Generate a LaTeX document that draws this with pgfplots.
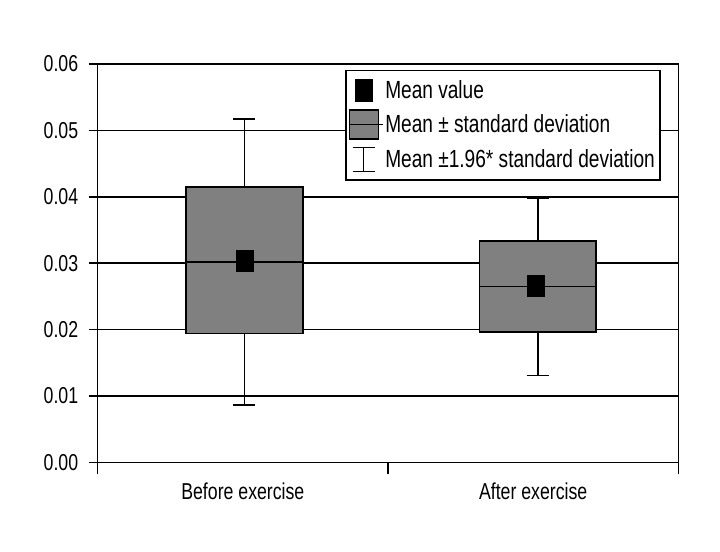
\documentclass[border=0pt]{standalone}
\usepackage{fontspec}
\setmainfont{Liberation Sans}[FakeStretch=0.77]
\usepackage{pgfplots}
\pgfplotsset{compat=1.18}
\begin{document}
\begin{tikzpicture}
\path[use as bounding box] (-97.7bp,-89.7bp) rectangle (622.3bp,462.3bp);
\begin{axis}[
  scale only axis,
  width=580.6bp, height=398.3bp,
  xmin=0.5, xmax=2.5,
  ymin=0, ymax=0.06,
  ytick={0,0.01,0.02,0.03,0.04,0.05,0.06},
  scaled y ticks=false,
  xtick={1,2},
  xticklabels={Before exercise, After exercise},
  minor xtick={0.5,1.5,2.5},
  xtick pos=bottom, ytick pos=left,
  tick align=outside,
  major tick length=9bp,
  major x tick style={draw=none},
  minor tick length=12bp,
  every tick/.style={black, line width=1.5bp},
  axis line style={line width=1.5bp},
  ymajorgrids,
  y grid style={black, line width=1.5bp},
  /pgf/number format/assume math mode=true,
  yticklabel style={/pgf/number format/fixed, /pgf/number format/fixed zerofill, /pgf/number format/precision=2},
  every tick label/.append style={font=\fontsize{23bp}{27bp}\selectfont},
  yticklabel style={xshift=-7bp},
  xticklabel style={yshift=-8bp},
  legend style={at={(0.426,0.985)}, anchor=north west, draw=black, line width=1.5bp,
    font=\fontsize{24.8bp}{28bp}\selectfont, row sep=7bp, inner xsep=3bp, inner ysep=8bp},
  legend cell align=left,
]
% whiskers (mean +/- 1.96 SD)
\addplot[black, line width=1.5bp, forget plot] coordinates {(1.005,0.0086) (1.005,0.0517)};
\addplot[black, line width=1.5bp, forget plot] coordinates {(0.967,0.0517) (1.043,0.0517)};
\addplot[black, line width=1.5bp, forget plot] coordinates {(0.967,0.0086) (1.043,0.0086)};
\addplot[black, line width=1.5bp, forget plot] coordinates {(2.016,0.0131) (2.016,0.0398)};
\addplot[black, line width=1.5bp, forget plot] coordinates {(1.978,0.0398) (2.054,0.0398)};
\addplot[black, line width=1.5bp, forget plot] coordinates {(1.978,0.0131) (2.054,0.0131)};
% boxes (mean +/- SD)
\addplot[fill=gray, draw=black, line width=1.6bp, forget plot]
  coordinates {(0.8035,0.0194) (1.2065,0.0194) (1.2065,0.0415) (0.8035,0.0415)} -- cycle;
\addplot[fill=gray, draw=black, line width=1.6bp, forget plot]
  coordinates {(1.8145,0.0196) (2.2175,0.0196) (2.2175,0.0333) (1.8145,0.0333)} -- cycle;
% median lines
\addplot[black, line width=1.5bp, forget plot] coordinates {(0.8035,0.0302) (1.2065,0.0302)};
\addplot[black, line width=1.5bp, forget plot] coordinates {(1.8145,0.0265) (2.2175,0.0265)};
% means
\addplot[only marks, mark=square*, mark size=10.75bp, mark options={xscale=0.79, fill=black, draw=black}, forget plot]
  coordinates {(1.005,0.0304) (2.009,0.0266)};
\addlegendimage{legend image code/.code={\fill[black] (3bp,-10.5bp) rectangle (20bp,10.5bp);}}
\addlegendentry{Mean value}
\addlegendimage{legend image code/.code={\draw[fill=gray, line width=1.5bp] (-3bp,-14.5bp) rectangle (26bp,14.5bp); \path (-3bp,0) -- (30bp,0);}}
\addlegendentry{Mean ± standard deviation}
\addlegendimage{legend image code/.code={\draw[line width=1.5bp] (0bp,-12bp) -- (22bp,-12bp) (11bp,-12bp) -- (11bp,12bp) (0bp,12bp) -- (22bp,12bp);}}
\addlegendentry{Mean ±1.96* standard deviation}
\end{axis}
\end{tikzpicture}
\end{document}
